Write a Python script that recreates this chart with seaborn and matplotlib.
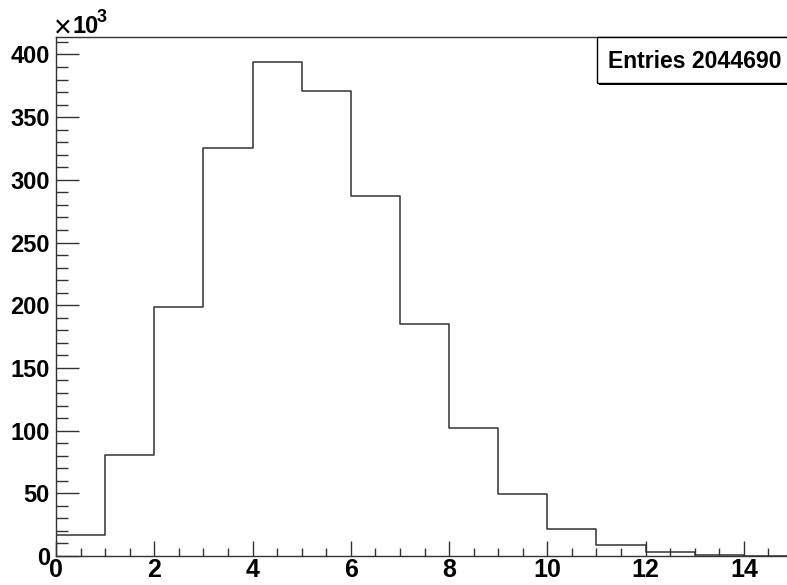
import numpy as np
import matplotlib
matplotlib.use('Agg')
import matplotlib.pyplot as plt
from matplotlib.patches import Rectangle
from matplotlib.ticker import MultipleLocator
import seaborn as sns

# bin edges and contents (in units of 10^3 entries)
bin_edges = [0, 1, 2, 3, 4, 5, 6, 7, 8, 9, 10, 11, 12, 13, 14, 15]
bin_counts = [16.5, 80.3, 198.8, 325.6, 394.0, 370.8, 286.8, 185.0, 102.0,
              49.4, 21.8, 8.5, 2.9, 0.8, 0.0]
entries_text = 'Entries 2044690'

bin_centers = [(a + b) / 2 for a, b in zip(bin_edges[:-1], bin_edges[1:])]

sns.set_style('ticks')
plt.rcParams['font.family'] = ['Liberation Sans', 'DejaVu Sans']
plt.rcParams['font.weight'] = 'bold'
plt.rcParams['text.color'] = 'black'
plt.rcParams['xtick.labelcolor'] = 'black'
plt.rcParams['ytick.labelcolor'] = 'black'

W, H = 787, 585
fig = plt.figure(figsize=(W / 100, H / 100), dpi=100)
ax = fig.add_axes([56 / W, 29 / H, 737 / W, 519 / H])

line_col = '#333333'
sns.histplot(x=bin_centers, weights=bin_counts, bins=bin_edges, element='step',
             fill=False, color=line_col, linewidth=1.1, ax=ax)

ax.set_xlim(0, 15)
ax.set_ylim(0, 413.9)
ax.set_xlabel('')
ax.set_ylabel('')

ax.xaxis.set_major_locator(MultipleLocator(2))
ax.xaxis.set_minor_locator(MultipleLocator(0.5))
ax.yaxis.set_major_locator(MultipleLocator(50))
ax.yaxis.set_minor_locator(MultipleLocator(10))

ax.tick_params(axis='x', which='major', direction='in', length=10.8, width=1,
               color=line_col, labelcolor='black', labelsize=18, pad=1.5)
ax.tick_params(axis='x', which='minor', direction='in', length=5.8, width=1,
               color=line_col)
ax.tick_params(axis='y', which='major', direction='in', length=16.5, width=1,
               color=line_col, labelcolor='black', labelsize=17, pad=4.5)
ax.tick_params(axis='y', which='minor', direction='in', length=8.6, width=1,
               color=line_col)
for lab in ax.get_xticklabels() + ax.get_yticklabels():
    lab.set_fontweight('bold')

for s in ['left', 'bottom', 'top']:
    ax.spines[s].set_color(line_col)
    ax.spines[s].set_linewidth(1)
ax.spines['right'].set_visible(False)

# x10^3 multiplier
fig.text(54 / W, 1 - 37 / H, '\u00d7', fontsize=22, fontweight='normal',
         ha='left', va='baseline', color='black')
fig.text(72 / W, 1 - 33 / H, '10', fontsize=17, fontweight='bold',
         ha='left', va='baseline', color='black')
fig.text(97 / W, 1 - 22 / H, '3', fontsize=13, fontweight='bold',
         ha='left', va='baseline', color='black')

# stats box with shadow
fig.add_artist(Rectangle((599 / W, 1 - 85 / H), 200 / W, 46 / H,
                         transform=fig.transFigure, facecolor='black',
                         edgecolor='black', lw=0))
fig.add_artist(Rectangle((597 / W, 1 - 83 / H), 200 / W, 46 / H,
                         transform=fig.transFigure, facecolor='white',
                         edgecolor='black', lw=1))
fig.text(608 / W, 1 - 62 / H, entries_text, fontsize=16.6, fontweight='bold',
         ha='left', va='center', color='black')

fig.savefig('out.png', dpi=100)
